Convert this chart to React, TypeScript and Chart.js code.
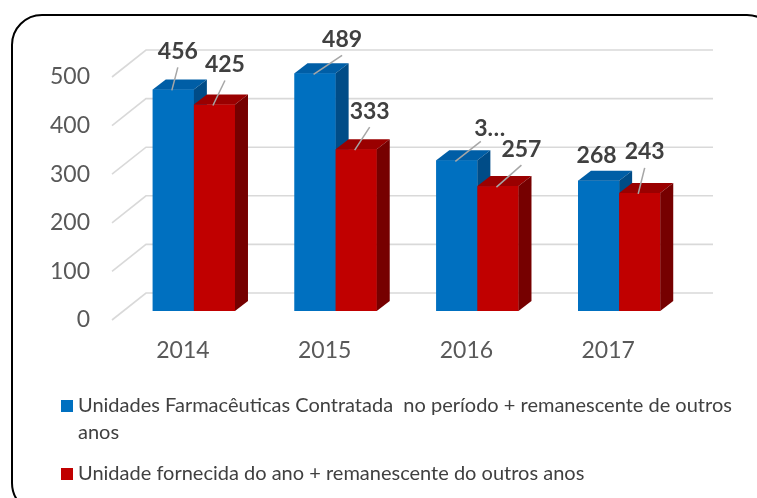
import React, { useEffect, useRef } from "react";
import { Chart, registerables } from "chart.js";

Chart.register(...registerables);

// ---------- data ----------
const categories = ["2014", "2015", "2016", "2017"];
const seriesContratada = [456, 489, 310, 268];
const seriesFornecida = [425, 333, 257, 243];
const seriesNames = [
  "Unidades Farmacêuticas Contratada  no período + remanescente de outros anos",
  "Unidade fornecida do ano + remanescente do outros anos",
];
const yTickValues = [0, 100, 200, 300, 400, 500];
// the source shows one label cut short ("3…")
const truncatedLabels = [
  [false, false, true, false],
  [false, false, false, false],
];

// ---------- styles ----------
const FONT = "Lato, 'Open Sans', sans-serif";
const FRONT = ["#0070C0", "#C00000"];
const TOP = ["#005EA6", "#9A0000"];
const SIDE = ["#004C87", "#760000"];
const GRID = "#D9D9D9";
const BAR_DEPTH: [number, number] = [13, -10];
const WALL_FRONT: [number, number] = [-11, 9];
const WALL_BACK: [number, number] = [23, -18];
// label placement relative to the bar's top-centre (dx, dy)
const labelOffsets: [number, number][][] = [
  [[4.5, -38], [27, -34], [33, -32], [-2, -25]],
  [[10.5, -40], [13.5, -38], [23.5, -37], [5, -41]],
];
const LEGEND = { boxX: 61, textX: 78, box: 12, rows: [406, 474], lineH: 27, maxW: 668 };

function labelText(v: number, cut: boolean) {
  return cut ? String(v).charAt(0) + "…" : String(v);
}

const threeD = {
  id: "threeD",
  beforeDraw(chart: any) {
    const { ctx } = chart;
    ctx.save();
    ctx.fillStyle = "#ffffff";
    ctx.fillRect(0, 0, chart.width, chart.height);
    ctx.strokeStyle = "#000000";
    ctx.lineWidth = 2;
    ctx.beginPath();
    ctx.roundRect(12, 15, 765, 498, 30);
    ctx.stroke();
    ctx.restore();
  },
  beforeDatasetsDraw(chart: any) {
    const { ctx, chartArea: a } = chart;
    const y = chart.scales.y;
    ctx.save();
    ctx.strokeStyle = GRID;
    ctx.lineWidth = 1.6;
    yTickValues.forEach((v) => {
      const py = y.getPixelForValue(v);
      ctx.beginPath();
      ctx.moveTo(a.left + WALL_FRONT[0], py + WALL_FRONT[1]);
      ctx.lineTo(a.left + WALL_BACK[0], py + WALL_BACK[1]);
      ctx.lineTo(a.right + WALL_BACK[0], py + WALL_BACK[1]);
      ctx.stroke();
    });
    ctx.restore();
  },
  afterDatasetsDraw(chart: any) {
    const { ctx } = chart;
    const metas = [0, 1].map((d) => chart.getDatasetMeta(d));
    const [dx, dy] = BAR_DEPTH;
    ctx.save();
    for (let i = 0; i < categories.length; i++) {
      for (let d = 0; d < 2; d++) {
        const el = metas[d].data[i];
        const { x, y, base, width } = el.getProps(["x", "y", "base", "width"], true);
        const x0 = x - width / 2;
        const x1 = x + width / 2;
        ctx.fillStyle = FRONT[d];
        ctx.fillRect(x0, y, width, base - y);
        ctx.fillStyle = TOP[d];
        ctx.beginPath();
        ctx.moveTo(x0, y);
        ctx.lineTo(x1, y);
        ctx.lineTo(x1 + dx, y + dy);
        ctx.lineTo(x0 + dx, y + dy);
        ctx.closePath();
        ctx.fill();
        ctx.fillStyle = SIDE[d];
        ctx.beginPath();
        ctx.moveTo(x1, y);
        ctx.lineTo(x1 + dx, y + dy);
        ctx.lineTo(x1 + dx, base + dy);
        ctx.lineTo(x1, base);
        ctx.closePath();
        ctx.fill();
      }
    }
    // data labels with leader lines
    for (let d = 0; d < 2; d++) {
      const values = chart.data.datasets[d].data as number[];
      for (let i = 0; i < values.length; i++) {
        const el = metas[d].data[i];
        const { x, y } = el.getProps(["x", "y"], true);
        const [ox, oy] = labelOffsets[d][i];
        const lx = x + ox;
        const ly = y + oy;
        if (oy < -28) {
          ctx.strokeStyle = "#A6A6A6";
          ctx.lineWidth = 1.5;
          ctx.beginPath();
          ctx.moveTo(truncatedLabels[d][i] ? lx - 9 : lx, ly + (truncatedLabels[d][i] ? 13 : 16));
          ctx.lineTo(x - 1.5, y + 1);
          ctx.stroke();
        }
        ctx.fillStyle = "#404040";
        ctx.font = `bold 23px ${FONT}`;
        ctx.textAlign = "center";
        ctx.textBaseline = "middle";
        ctx.fillText(labelText(values[i], truncatedLabels[d][i]), lx, ly);
      }
    }
    ctx.restore();
  },
  afterDraw(chart: any) {
    const { ctx } = chart;
    ctx.save();
    ctx.font = `20px ${FONT}`;
    ctx.textBaseline = "middle";
    ctx.textAlign = "left";
    chart.data.datasets.forEach((ds: any, d: number) => {
      const rowY = LEGEND.rows[d];
      ctx.fillStyle = FRONT[d];
      ctx.fillRect(LEGEND.boxX, rowY - LEGEND.box / 2, LEGEND.box, LEGEND.box);
      const words = String(ds.label).split(" ");
      const lines: string[] = [];
      let cur = "";
      words.forEach((w) => {
        const test = cur === "" ? w : cur + " " + w;
        if (ctx.measureText(test).width > LEGEND.maxW && cur.trim() !== "") {
          lines.push(cur);
          cur = w;
        } else cur = test;
      });
      lines.push(cur);
      ctx.fillStyle = "#404040";
      lines.forEach((ln, k) => ctx.fillText(ln, LEGEND.textX, rowY + k * LEGEND.lineH));
    });
    ctx.restore();
  },
};

export default function App() {
  const ref = useRef<HTMLCanvasElement | null>(null);
  useEffect(() => {
    if (!ref.current) return;
    const chart = new Chart(ref.current, {
      type: "bar",
      data: {
        labels: categories,
        datasets: [
          { label: seriesNames[0], data: seriesContratada, backgroundColor: FRONT[0], borderWidth: 0 },
          { label: seriesNames[1], data: seriesFornecida, backgroundColor: FRONT[1], borderWidth: 0 },
        ],
      },
      options: {
        responsive: false,
        animation: false,
        devicePixelRatio: 1,
        layout: { padding: { left: 0, top: 68, right: 67, bottom: 127 } },
        datasets: { bar: { categoryPercentage: 0.58, barPercentage: 1 } },
        plugins: { legend: { display: false }, tooltip: { enabled: false } },
        scales: {
          x: {
            grid: { display: false, drawTicks: false },
            border: { display: false },
            ticks: { font: { family: FONT, size: 23 }, color: "#595959", padding: 26, labelOffset: -11 },
            afterFit: (s: any) => { s.height = 60; },
          },
          y: {
            min: 0,
            max: 500,
            grid: { display: false, drawTicks: false },
            border: { display: false },
            ticks: { stepSize: 100, font: { family: FONT, size: 23 }, color: "#595959", padding: 33, labelOffset: 9 },
            afterFit: (s: any) => { s.width = 123; },
          },
        },
      },
      plugins: [threeD],
    });
    return () => chart.destroy();
  }, []);
  return (
    <div style={{ position: "fixed", left: 0, top: 0, width: 757, height: 498, background: "#fff" }}>
      <canvas ref={ref} width={757} height={498} style={{ display: "block" }} />
    </div>
  );
}
